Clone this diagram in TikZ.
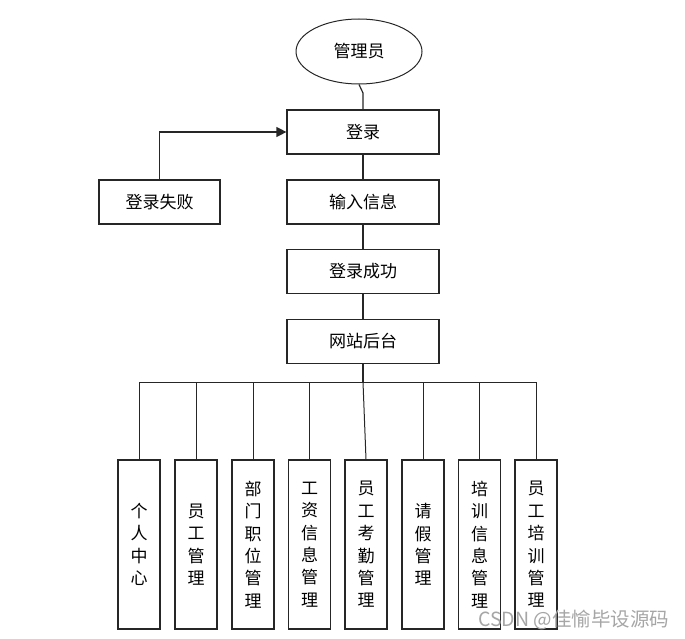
\documentclass[tikz,border=0pt]{standalone}
\usepackage{fontspec}
\setmainfont{Noto Sans CJK SC}
\usetikzlibrary{shapes.geometric,arrows.meta}
\begin{document}
\begin{tikzpicture}[x=1pt,y=-1pt,
  box/.style={draw=black!85,line width=1.2pt,fill=white,minimum width=152pt,minimum height=44pt,inner sep=0pt,font=\fontsize{17}{20}\selectfont},
  vbox/.style={draw=black!85,line width=1.2pt,fill=white,minimum width=42pt,minimum height=169pt,inner sep=0pt,align=center,font=\fontsize{17}{22.4}\selectfont},
  conn/.style={line width=1.2pt,black!85}]
\useasboundingbox (0,0) rectangle (685,639);
\node[ellipse,draw=black!85,line width=1pt,minimum width=126pt,minimum height=65pt,inner sep=0pt,font=\fontsize{17}{20}\selectfont] (admin) at (359,51.5) {管理员};
\node[box] (login) at (363,132) {登录};
\node[box,minimum width=121pt] (fail) at (159.5,202) {登录失败};
\node[box] (input) at (363,202) {输入信息};
\node[box] (succ) at (363,271.5) {登录成功};
\node[box] (site) at (363,341.5) {网站后台};
\coordinate (bend) at (363,93);
\draw[conn] (admin.south) -- (bend) -- (login.north);
\draw[conn,-{Triangle[length=10pt,width=10pt]}] (fail.north) |- (login.west);
\draw[conn] (login) -- (input);
\draw[conn] (input) -- (succ);
\draw[conn] (succ) -- (site);
\coordinate (busL) at (139,382);
\coordinate (busR) at (536,382);
\coordinate (busM) at (363,382);
\draw[conn] (site.south) -- (busM);
\draw[line width=1pt,black!85] (busL) -- (busR);
\node[vbox] (b1) at (139,544.5) {个\\人\\中\\心};
\node[vbox] (b2) at (196,544.5) {员\\工\\管\\理};
\node[vbox] (b3) at (253,544.5) {部\\门\\职\\位\\管\\理};
\node[vbox] (b4) at (309.5,544.5) {工\\资\\信\\息\\管\\理};
\node[vbox] (b5) at (366,544.5) {员\\工\\考\\勤\\管\\理};
\node[vbox] (b6) at (423,544.5) {请\\假\\管\\理};
\node[vbox] (b7) at (479.5,544.5) {培\\训\\信\\息\\管\\理};
\node[vbox] (b8) at (536,544.5) {员\\工\\培\\训\\管\\理};
\foreach \n/\x in {b1/139,b2/196,b3/253,b4/309.5,b6/423,b7/479.5,b8/536}
  \draw[line width=1pt,black!85] (\x,382) -- (\n.north);
\draw[line width=1pt,black!85] (busM) -- (b5.north);
\node[text=black!35,font=\fontsize{19.5}{22}\selectfont,anchor=west,inner sep=0pt] (wm) at (478,620) {CSDN @佳愉毕设源码};
\end{tikzpicture}
\end{document}
